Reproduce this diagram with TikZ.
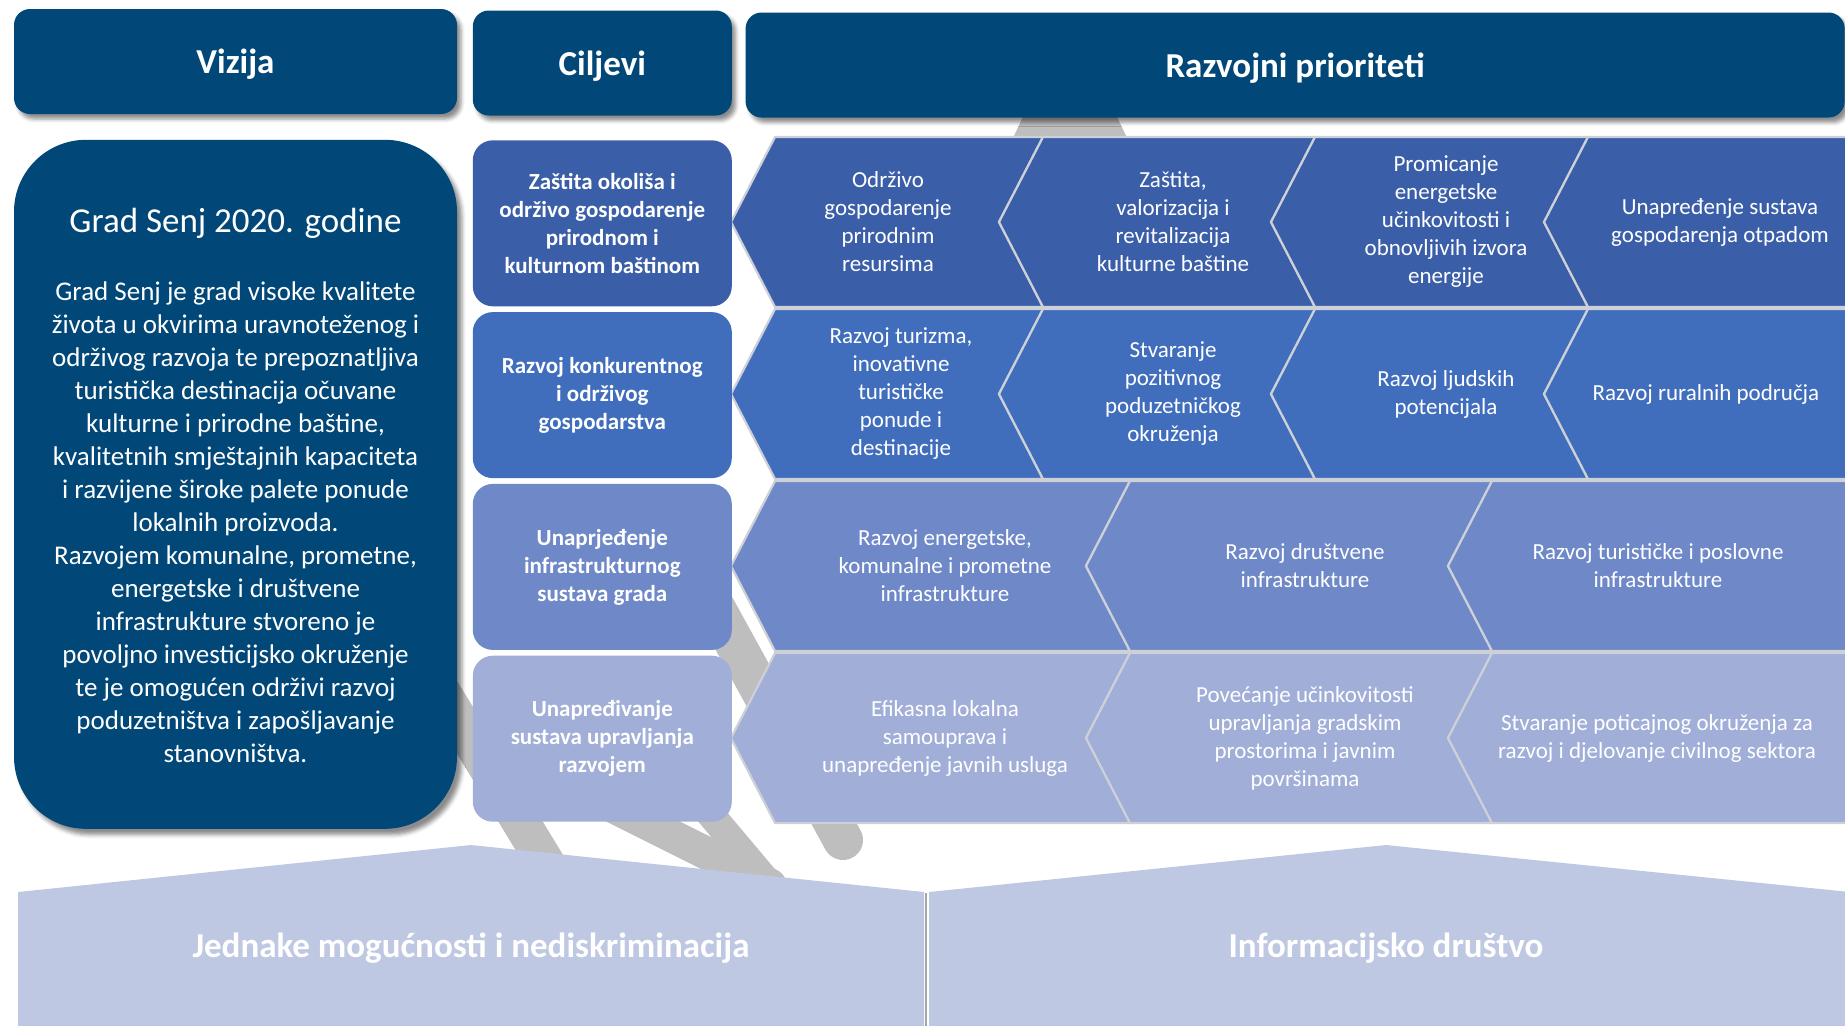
\documentclass[tikz,border=0pt]{standalone}
\usepackage{fontspec}
\setmainfont{Carlito}
\usepackage{tikz}
\usetikzlibrary{positioning,shadows.blur}
\definecolor{headBlue}{RGB}{1,71,119}
\definecolor{rowOne}{RGB}{58,94,168}
\definecolor{rowTwo}{RGB}{64,110,189}
\definecolor{rowThree}{RGB}{110,136,200}
\definecolor{rowFour}{RGB}{160,174,216}
\definecolor{baseLilac}{RGB}{191,200,227}
\definecolor{rootGray}{RGB}{190,190,190}
\definecolor{edgeGray}{RGB}{205,208,214}

% left-pointing chevron: left x, right x, top y, bottom y, colour
\newcommand{\rowchevron}[5]{%
  \filldraw[fill=#5, draw=edgeGray, line width=1.1pt]
    (#1,#3) -- (#2,#3) -- ({#2-44},{(#3+#4)/2}) -- (#2,#4) -- (#1,#4) -- ({#1-44},{(#3+#4)/2}) -- cycle;}

\begin{document}
\begin{tikzpicture}[x=0.5pt, y=-0.5pt,
    headbox/.style={rectangle, rounded corners=8pt, fill=headBlue, text=white, font=\fontsize{17.5}{21}\selectfont\bfseries, minimum height=52.5pt, inner sep=0pt, text depth=0pt, blur shadow={shadow xshift=2pt, shadow yshift=-2.5pt, shadow opacity=45}},
    ciljbox/.style={rectangle, rounded corners=10pt, text=white, align=center, font=\fontsize{11.5}{14}\selectfont\bfseries, minimum width=129.5pt, minimum height=83pt, inner sep=0pt},
    prioText/.style={text=white, align=center, font=\fontsize{11.5}{14}\selectfont, inner sep=0pt},
    baseText/.style={text=white, font=\fontsize{17.5}{21}\selectfont\bfseries, inner sep=0pt, text depth=0pt},
    rootbar/.style={draw=rootGray, line cap=round}]
    \useasboundingbox (0,0) rectangle (1845,1025);
    \clip (0,0) rectangle (1845,1025);

    % gray roots behind everything
    \fill[rootGray] (1012,140) -- (1050,60) -- (1090,60) -- (1128,140) -- cycle;
    \draw[rootbar, line width=19pt] (410,640) -- (550,870);
    \draw[rootbar, line width=16.5pt] (560,780) -- (770,885);
    \draw[rootbar, line width=14pt] (690,790) -- (770,885);
    \draw[rootbar, line width=20pt] (700,580) -- (843,840);

    % priority chevrons
    \rowchevron{775}{1043}{137}{307}{rowOne}
    \rowchevron{1043}{1315}{137}{307}{rowOne}
    \rowchevron{1315}{1588}{137}{307}{rowOne}
    \rowchevron{1588}{1900}{137}{307}{rowOne}
    \rowchevron{775}{1043}{309}{479}{rowTwo}
    \rowchevron{1043}{1315}{309}{479}{rowTwo}
    \rowchevron{1315}{1588}{309}{479}{rowTwo}
    \rowchevron{1588}{1900}{309}{479}{rowTwo}
    \rowchevron{775}{1130}{481}{651}{rowThree}
    \rowchevron{1130}{1492}{481}{651}{rowThree}
    \rowchevron{1492}{1900}{481}{651}{rowThree}
    \rowchevron{775}{1130}{653}{823}{rowFour}
    \rowchevron{1130}{1492}{653}{823}{rowFour}
    \rowchevron{1492}{1900}{653}{823}{rowFour}

    % headers
    \node[headbox, minimum width=221.5pt] (vizija) at (235.5,61.5) {Vizija};
    \node[headbox, minimum width=129.5pt, right=7.5pt of vizija, yshift=-0.75pt] (ciljevi) {Ciljevi};
    \node[headbox, minimum width=549.5pt, right=6.5pt of ciljevi, yshift=-1pt] (prioriteti) {Razvojni prioriteti};

    % vision
    \node[rectangle, rounded corners=36pt, fill=headBlue, minimum width=221.5pt, minimum height=344.5pt, below=12.5pt of vizija, blur shadow={shadow xshift=2.5pt, shadow yshift=-3pt, shadow opacity=45}] (visBox) {};
    \node[text=white, font=\fontsize{17.5}{21}\selectfont, inner sep=0pt] (visTitle) at (235.5,223) {Grad Senj 2020. godine};
    \node[text=white, align=center, font=\fontsize{13.5}{16.5}\selectfont, inner sep=0pt] (visBody) at (235.5,522) {Grad Senj je grad visoke kvalitete\\ života u okvirima uravnoteženog i\\ održivog razvoja te prepoznatljiva\\ turistička destinacija očuvane\\ kulturne i prirodne baštine,\\ kvalitetnih smještajnih kapaciteta\\ i razvijene široke palete ponude\\ lokalnih proizvoda.\\ Razvojem komunalne, prometne,\\ energetske i društvene\\ infrastrukture stvoreno je\\ povoljno investicijsko okruženje\\ te je omogućen održivi razvoj\\ poduzetništva i zapošljavanje\\ stanovništva.};

    % goals
    \node[ciljbox, fill=rowOne, below=12pt of ciljevi] (cilj1) {Zaštita okoliša i\\ održivo gospodarenje\\ prirodnom i\\ kulturnom baštinom};
    \node[ciljbox, fill=rowTwo, below=2.5pt of cilj1] (cilj2) {Razvoj konkurentnog\\ i održivog\\ gospodarstva};
    \node[ciljbox, fill=rowThree, below=2.5pt of cilj2] (cilj3) {Unaprjeđenje\\ infrastrukturnog\\ sustava grada};
    \node[ciljbox, fill=rowFour, below=2.5pt of cilj3] (cilj4) {Unapređivanje\\ sustava upravljanja\\ razvojem};

    % priority texts
    \node[prioText] (p11) at (888,222) {Održivo\\ gospodarenje\\ prirodnim\\ resursima};
    \node[prioText] (p12) at (1173,222) {Zaštita,\\ valorizacija i\\ revitalizacija\\ kulturne baštine};
    \node[prioText] (p13) at (1446,222) {Promicanje\\ energetske\\ učinkovitosti i\\ obnovljivih izvora\\ energije};
    \node[prioText] (p14) at (1720,222) {Unapređenje sustava\\ gospodarenja otpadom};
    \node[prioText] (p21) at (901,394) {Razvoj turizma,\\ inovativne\\ turističke\\ ponude i\\ destinacije};
    \node[prioText] (p22) at (1173,394) {Stvaranje\\ pozitivnog\\ poduzetničkog\\ okruženja};
    \node[prioText] (p23) at (1446,394) {Razvoj ljudskih\\ potencijala};
    \node[prioText] (p24) at (1706,394) {Razvoj ruralnih područja};
    \node[prioText] (p31) at (945,566) {Razvoj energetske,\\ komunalne i prometne\\ infrastrukture};
    \node[prioText] (p32) at (1305,566) {Razvoj društvene\\ infrastrukture};
    \node[prioText] (p33) at (1658,566) {Razvoj turističke i poslovne\\ infrastrukture};
    \node[prioText] (p41) at (945,738) {Efikasna lokalna\\ samouprava i\\ unapređenje javnih usluga};
    \node[prioText] (p42) at (1305,738) {Povećanje učinkovitosti\\ upravljanja gradskim\\ prostorima i javnim\\ površinama};
    \node[prioText] (p43) at (1657,738) {Stvaranje poticajnog okruženja za\\ razvoj i djelovanje civilnog sektora};

    % horizontal themes at the base
    \fill[baseLilac] (18,1030) -- (18,892) -- (471,845) -- (924,892) -- (924,1030) -- cycle;
    \fill[baseLilac] (929,1030) -- (929,892) -- (1386,845) -- (1850,892) -- (1850,1030) -- cycle;
    \draw[gray!70, line width=0.8pt] (926,893) -- (926,1030);
    \node[baseText] (jednake) at (471,945) {Jednake mogućnosti i nediskriminacija};
    \node[baseText] (infodrustvo) at (1386,945) {Informacijsko društvo};
\end{tikzpicture}
\end{document}
